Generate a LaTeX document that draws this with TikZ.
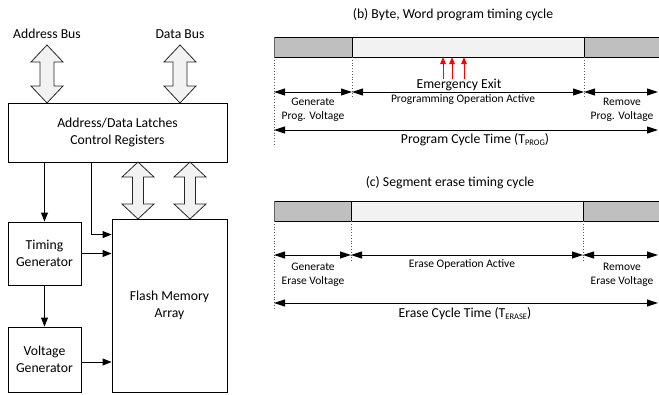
\documentclass[tikz,border=0pt]{standalone}
\usepackage{fontspec}
\setmainfont{Carlito}
\usetikzlibrary{arrows.meta,calc}
\definecolor{barDark}{HTML}{BFBFBF}
\definecolor{barLight}{HTML}{F2F2F2}
\definecolor{busFill}{HTML}{F2F2F2}
\newcommand\busarrow[6]{% cx, ytop, ybot, head half-width, shaft half-width, head length
  \draw[busline] (#1,#2) -- (#1+#4,#2+#6) -- (#1+#5,#2+#6) -- (#1+#5,#3-#6) -- (#1+#4,#3-#6)
    -- (#1,#3) -- (#1-#4,#3-#6) -- (#1-#5,#3-#6) -- (#1-#5,#2+#6) -- (#1-#4,#2+#6) -- cycle;}
\newcommand\sub[1]{\raisebox{-2pt}{\fontsize{8.5}{9}\selectfont #1}}
\begin{document}
\begin{tikzpicture}[x=1pt,y=-1pt,
  big/.style={font=\fontsize{13.7}{16.5}\selectfont, align=center, inner sep=0pt},
  small/.style={font=\fontsize{11.5}{14}\selectfont, align=center, inner sep=0pt},
  box/.style={draw, line width=0.9pt, big},
  busline/.style={draw=black!85, fill=busFill, line width=0.8pt},
  sig/.style={line width=0.9pt, -{Triangle[length=9,width=7]}},
  span/.style={line width=1pt, {Triangle[length=11,width=7]}-{Triangle[length=11,width=7]}},
  guide/.style={gray!70!black, dotted, line width=0.8pt},
  exitarrow/.style={red, line width=1pt, -{Triangle[length=7,width=5.5]}}]
\useasboundingbox (0,0) rectangle (659,394);

% ---------------- block diagram ----------------
\node[big] (abus) at (47,34) {Address Bus};
\node[big] (dbus) at (180,34) {Data Bus};

\node[box, minimum width=219, minimum height=59] (latch) at (117.5,132.5)
  {Address/Data Latches\\Control Registers};
\node[box, minimum width=73, minimum height=63] (timing) at (44.5,253.5)
  {Timing\\Generator};
\node[box, minimum width=73, minimum height=65] (volt) at (44.5,359.5)
  {Voltage\\Generator};
\node[box, minimum width=115, minimum height=173] (flash) at (169.5,305.5)
  {Flash Memory\\Array};

% bidirectional buses
\busarrow{47}{45}{103}{16}{7}{17}
\busarrow{180}{45}{103}{16}{7}{17}
\busarrow{138}{162}{219}{16}{5.5}{15}
\busarrow{190}{162}{219}{16}{5.5}{15}

% control signals
\draw[sig] (timing.north |- latch.south) -- (timing.north);
\draw[sig] ($(latch.south west)+(84,0)$) |- ($(flash.north west)+(0,16)$);
\draw[sig] (timing.east) -- (timing.east -| flash.west);
\draw[sig] (timing.south) -- (volt.north);
\draw[sig] ($(volt.east)+(0,2.5)$) -- ($(volt.east -| flash.west)+(0,2.5)$);

% ---------------- (b) program timing ----------------
\node[big] (btitle) at (453,15) {(b) Byte, Word program timing cycle};
\fill[barDark] (274,37) rectangle (352,57);
\fill[barLight] (352,37) rectangle (584,57);
\fill[barDark] (584,37) rectangle (662,57);
\draw[line width=0.9pt] (274,37) -- (662,37) (274,57) -- (662,57)
  (352,37) -- (352,57) (584,37) -- (584,57);
\draw[black!60, line width=0.6pt] (274,37) -- (274,57);

\coordinate (b0) at (274,92); \coordinate (b1) at (352,92);
\coordinate (b2) at (584,92); \coordinate (b3) at (658,92);
\coordinate (bL) at (274,130); \coordinate (bR) at (658,130);
\draw[guide] (274,57) -- (274,145);
\draw[guide] (352,57) -- (352,98);
\draw[guide] (584,57) -- (584,98);
\draw[span] (b0) -- (b1);
\draw[span] (b1) -- (b2);
\draw[span] (b2) -- (b3);
\draw[span] (bL) -- (bR);

\coordinate (e1) at (443,79); \coordinate (e2) at (452,79); \coordinate (e3) at (464,79);
\draw[exitarrow] (e1) -- (e1 |- 0,57);
\draw[exitarrow] (e2) -- (e2 |- 0,57);
\draw[exitarrow] (e3) -- (e3 |- 0,57);

\node[big] (exit) at (459,85) {Emergency Exit};
\node[small] (pact) at (463,100) {Programming Operation Active};
\node[small] (pgen) at (313,110) {Generate\\Prog. Voltage};
\node[small] (prem) at (622,110) {Remove\\Prog. Voltage};
\node[big] (ptime) at (475,140) {Program Cycle Time (T\sub{PROG})};

% ---------------- (c) erase timing ----------------
\node[big] (ctitle) at (450,183) {(c) Segment erase timing cycle};
\fill[barDark] (274,201) rectangle (351,221);
\fill[barLight] (351,201) rectangle (583,221);
\fill[barDark] (583,201) rectangle (662,221);
\draw[line width=0.9pt] (274,201) -- (662,201) (274,221) -- (662,221)
  (351,201) -- (351,221) (583,201) -- (583,221);
\draw[black!60, line width=0.6pt] (274,201) -- (274,221);

\coordinate (c0) at (274,255); \coordinate (c1) at (351,255);
\coordinate (c2) at (583,255); \coordinate (c3) at (658,255);
\coordinate (cL) at (274,303); \coordinate (cR) at (658,303);
\draw[guide] (274,221) -- (274,308);
\draw[guide] (351,221) -- (351,261);
\draw[guide] (583,221) -- (583,261);
\draw[span] (c0) -- (c1);
\draw[span] (c1) -- (c2);
\draw[span] (c2) -- (c3);
\draw[span] (cL) -- (cR);

\node[small] (eact) at (462,264) {Erase Operation Active};
\node[small] (egen) at (313,275) {Generate\\Erase Voltage};
\node[small] (erem) at (622,275) {Remove\\Erase Voltage};
\node[big] (etime) at (465,314) {Erase Cycle Time (T\sub{ERASE})};
\end{tikzpicture}
\end{document}
